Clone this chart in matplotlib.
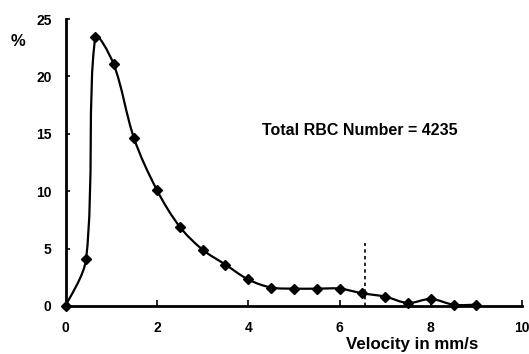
import numpy as np
import matplotlib
matplotlib.use("Agg")
import matplotlib.pyplot as plt
from matplotlib.path import Path
from matplotlib.patches import PathPatch

plt.rcParams['font.family'] = ['Liberation Sans', 'DejaVu Sans']
plt.rcParams['font.weight'] = 'bold'

# RBC velocity distribution
velocity = [0, 0.45, 0.65, 1.05, 1.5, 2.0, 2.5, 3.0, 3.5, 4.0, 4.5,
            5.0, 5.5, 6.0, 6.5, 7.0, 7.5, 8.0, 8.5, 9.0]
percent = [0, 4.1, 23.4, 21.1, 14.6, 10.1, 6.9, 4.9, 3.6, 2.3, 1.6,
           1.5, 1.5, 1.5, 1.1, 0.8, 0.25, 0.6, 0.1, 0.1]
cutoff_x = 6.55
cutoff_top = 5.5
x_ticks = [0, 2, 4, 6, 8, 10]
y_ticks = [0, 5, 10, 15, 20, 25]
note = 'Total RBC Number = 4235'


def smooth_path(xs, ys, sx=45.6, sy=11.5, k=1/3.0):
    # excel-like smoothed line, bezier control points weighted by
    # segment length (on screen) so steep jumps don't overshoot much
    pts = np.column_stack([xs, ys]).astype(float)
    scr = pts * [sx, sy]
    n = len(pts)

    def dist(a, b):
        return np.hypot(*(scr[b] - scr[a]))

    verts = [pts[0]]
    codes = [Path.MOVETO]
    for i in range(n - 1):
        i0 = max(i - 1, 0)
        i3 = min(i + 2, n - 1)
        d01 = dist(i0, i)
        d12 = dist(i, i + 1)
        d23 = dist(i + 1, i3)
        w1 = d12 / (d01 + d12) if d01 > 0 else 0.5
        w2 = d12 / (d12 + d23) if d23 > 0 else 0.5
        c1 = pts[i] + (pts[i + 1] - pts[i0]) * k * w1
        c2 = pts[i + 1] - (pts[i3] - pts[i]) * k * w2
        verts += [c1, c2, pts[i + 1]]
        codes += [Path.CURVE4] * 3
    return Path(verts, codes)


fig = plt.figure(figsize=(5.29, 3.54), dpi=100)
ax = fig.add_axes([0.124, 0.136, 0.863, 0.81])

ax.add_patch(PathPatch(smooth_path(velocity, percent), fill=False,
                       edgecolor='black', lw=1.6, clip_on=False))
ax.plot(velocity, percent, ls='none', marker='D', ms=5.5, color='black',
        clip_on=False, zorder=3)
ax.plot([cutoff_x, cutoff_x], [0, cutoff_top], ls=(0, (2, 2)), color='black',
        lw=1.2)

ax.set_xlim(0, 10)
ax.set_ylim(0, 25)
ax.set_xticks(x_ticks)
ax.set_yticks(y_ticks)
ax.tick_params(axis='x', direction='in', length=4, width=1.2, labelsize=10,
               pad=11)
ax.tick_params(axis='y', direction='in', length=3, width=1.2, labelsize=10,
               pad=10)
for s in ['top', 'right']:
    ax.spines[s].set_visible(False)
for s in ['left', 'bottom']:
    ax.spines[s].set_linewidth(2)

ax.text(4.3, 15.3, note, fontsize=11.5, fontweight='bold', va='center')
fig.text(0.034, 0.882, '%', fontsize=12, fontweight='bold', ha='center',
         va='center')
fig.text(0.779, 0.027, 'Velocity in mm/s', fontsize=12.2, fontweight='bold',
         ha='center', va='center')

fig.savefig('out.png', dpi=100)
